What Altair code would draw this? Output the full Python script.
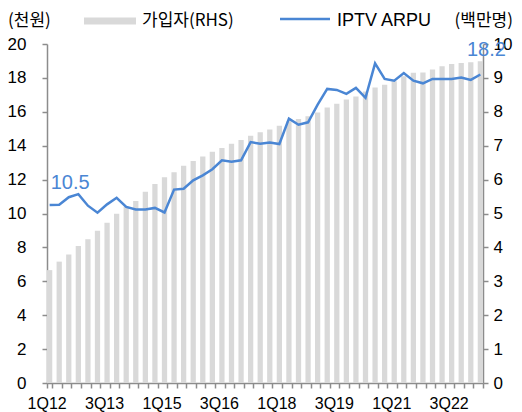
import altair as alt
import pandas as pd

quarters = [
    "1Q12", "2Q12", "3Q12", "4Q12", "1Q13", "2Q13", "3Q13", "4Q13",
    "1Q14", "2Q14", "3Q14", "4Q14", "1Q15", "2Q15", "3Q15", "4Q15",
    "1Q16", "2Q16", "3Q16", "4Q16", "1Q17", "2Q17", "3Q17", "4Q17",
    "1Q18", "2Q18", "3Q18", "4Q18", "1Q19", "2Q19", "3Q19", "4Q19",
    "1Q20", "2Q20", "3Q20", "4Q20", "1Q21", "2Q21", "3Q21", "4Q21",
    "1Q22", "2Q22", "3Q22", "4Q22", "1Q23", "2Q23",
]
# subscribers, million (RHS)
subscribers = [
    3.33, 3.58, 3.79, 4.04, 4.24, 4.49, 4.73, 4.99, 5.20, 5.37, 5.64, 5.87,
    6.07, 6.22, 6.41, 6.55, 6.68, 6.82, 6.93, 7.06, 7.17, 7.29, 7.40, 7.48,
    7.59, 7.72, 7.79, 7.87, 7.98, 8.13, 8.24, 8.36, 8.45, 8.60, 8.72, 8.80,
    8.90, 9.05, 9.15, 9.16, 9.25, 9.34, 9.41, 9.44, 9.46, 9.49,
]
# IPTV ARPU, thousand won (LHS)
arpu = [
    10.5, 10.52, 10.96, 11.14, 10.46, 10.05, 10.54, 10.93, 10.39, 10.24, 10.24, 10.33,
    10.06, 11.41, 11.46, 11.96, 12.25, 12.61, 13.14, 13.06, 13.14, 14.21, 14.12, 14.19,
    14.10, 15.60, 15.24, 15.38, 16.42, 17.35, 17.29, 17.06, 17.41, 16.82, 18.86, 17.94,
    17.84, 18.29, 17.84, 17.68, 17.94, 17.94, 17.94, 18.02, 17.88, 18.2,
]
label_ticks = ["1Q12", "3Q13", "1Q15", "3Q16", "1Q18", "3Q19", "1Q21", "3Q22"]
left_ticks = [0, 2, 4, 6, 8, 10, 12, 14, 16, 18, 20]
right_ticks = [0, 1, 2, 3, 4, 5, 6, 7, 8, 9, 10]

df = pd.DataFrame({"q": quarters, "sub": subscribers, "arpu": arpu})

NUM_FONT = "Liberation Sans"
KR_FONT = "Noto Sans CJK KR"
BLUE = "#4a86d4"
GREY_BAR = "#d9d9d9"
AXIS_GREY = "#8c8c8c"

label_list = "[" + ",".join(f"'{t}'" for t in label_ticks) + "]"

x_enc = alt.X(
    "q:N",
    sort=quarters,
    scale=alt.Scale(domain=quarters, paddingInner=0.45, paddingOuter=0),
    axis=alt.Axis(
        title=None, labelAngle=0, labelOverlap=False, tickBand="extent",
        labelExpr=f"indexof({label_list}, datum.value) >= 0 ? datum.value : ''",
        labelFont=NUM_FONT, labelFontSize=16, labelColor="#000",
        labelPadding=7, labelOffset=-3, tickSize=5, tickColor=AXIS_GREY, tickWidth=1.5,
        domainColor=AXIS_GREY, domainWidth=1.5, grid=False,
    ),
)

bars = alt.Chart(df).mark_bar(color=GREY_BAR).encode(
    x=x_enc,
    y=alt.Y(
        "sub:Q",
        scale=alt.Scale(domain=[0, 10], nice=False),
        axis=alt.Axis(
            orient="right", values=right_ticks, title=None, grid=False,
            labelFont=NUM_FONT, labelFontSize=17, labelColor="#000",
            labelPadding=5, tickSize=5, tickColor=AXIS_GREY, tickWidth=1.5,
            domainColor=AXIS_GREY, domainWidth=1.5,
        ),
    ),
)

y_left = alt.Y(
    "arpu:Q",
    scale=alt.Scale(domain=[0, 20], nice=False),
    axis=alt.Axis(
        orient="left", values=left_ticks, title=None, grid=False,
        labelFont=NUM_FONT, labelFontSize=17, labelColor="#000",
        labelPadding=16, tickSize=5, tickColor=AXIS_GREY, tickWidth=1.5,
        domainColor=AXIS_GREY, domainWidth=1.5,
    ),
)

line = alt.Chart(df).mark_line(color=BLUE, strokeWidth=2.5).encode(x=x_enc, y=y_left)

first_lbl = alt.Chart(df).transform_filter(f"datum.q == '{quarters[0]}'").mark_text(
    color=BLUE, font=NUM_FONT, fontSize=20, align="left", baseline="bottom", dx=1, dy=-12
).encode(x=x_enc, y=y_left, text=alt.Text("arpu:Q", format=".1f"))

last_lbl = alt.Chart(df).transform_filter(f"datum.q == '{quarters[-1]}'").mark_text(
    color=BLUE, font=NUM_FONT, fontSize=20, align="center", baseline="bottom", dx=6, dy=-15
).encode(x=x_enc, y=y_left, text=alt.Text("arpu:Q", format=".1f"))

left_layer = alt.layer(line, first_lbl, last_lbl)


def one():
    return alt.Data(values=[{"k": 0}])


LEG_Y = -23

unit_left = alt.Chart(one()).mark_text(
    font=KR_FONT, fontSize=17, align="left", baseline="middle", color="#000"
).encode(x=alt.value(-39), y=alt.value(LEG_Y), text=alt.value("(천원)"))

unit_right = alt.Chart(one()).mark_text(
    font=KR_FONT, fontSize=17, align="right", baseline="middle", color="#000"
).encode(x=alt.value(466), y=alt.value(LEG_Y), text=alt.value("(백만명)"))

swatch = alt.Chart(one()).mark_rect(color=GREY_BAR).encode(
    x=alt.value(37), x2=alt.value(89), y=alt.value(-26.5), y2=alt.value(-19.5)
)
swatch_txt = alt.Chart(one()).mark_text(
    font=KR_FONT, fontSize=17, align="left", baseline="middle", color="#000"
).encode(x=alt.value(95), y=alt.value(LEG_Y), text=alt.value("가입자(RHS)"))

lsw = alt.Chart(one()).mark_rule(color=BLUE, strokeWidth=2.5).encode(
    x=alt.value(233), x2=alt.value(283), y=alt.value(-25)
)
lsw_txt = alt.Chart(one()).mark_text(
    font=NUM_FONT, fontSize=18, align="left", baseline="middle", color="#000"
).encode(x=alt.value(290), y=alt.value(LEG_Y), text=alt.value("IPTV ARPU"))

chart = alt.layer(
    bars, left_layer, unit_left, unit_right, swatch, swatch_txt, lsw, lsw_txt
).resolve_scale(y="independent").properties(
    width=436, height=339,
    padding={"left": 39, "top": 36, "right": 31, "bottom": 30},
    autosize=alt.AutoSizeParams(type="none"),
).configure_view(stroke=None)

chart.save("out.html", embed_options={"renderer": "svg", "actions": False})
